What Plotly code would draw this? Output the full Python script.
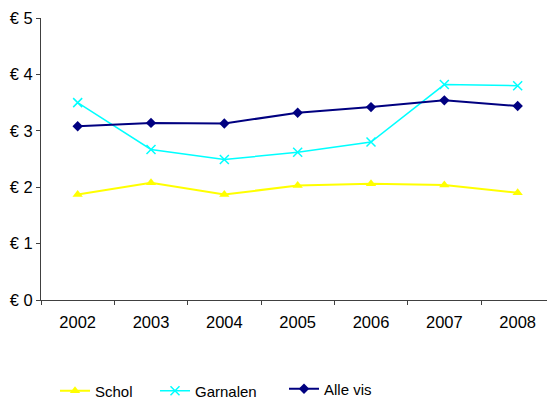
import plotly.graph_objects as go

years = ["2002", "2003", "2004", "2005", "2006", "2007", "2008"]
schol = [1.87, 2.08, 1.87, 2.03, 2.06, 2.04, 1.90]
garnalen = [3.50, 2.67, 2.49, 2.62, 2.80, 3.82, 3.80]
alle_vis = [3.08, 3.14, 3.13, 3.32, 3.42, 3.54, 3.44]
y_ticks = [0, 1, 2, 3, 4, 5]
y_labels = ["€ 0", "€ 1", "€ 2", "€ 3", "€ 4", "€ 5"]

FONT = "Liberation Sans, Arial, sans-serif"

fig = go.Figure()
fig.add_trace(go.Scatter(
    x=years, y=schol, name="Schol", mode="lines+markers",
    line=dict(color="#FFFF00", width=2),
    marker=dict(symbol="triangle-up", size=9, color="#FFFF00"),
    legend="legend",
))
fig.add_trace(go.Scatter(
    x=years, y=garnalen, name="Garnalen", mode="lines+markers",
    line=dict(color="#00FFFF", width=1.5),
    marker=dict(symbol="x-thin", size=9, color="#00FFFF",
                line=dict(color="#00FFFF", width=1.5)),
    legend="legend2",
))
fig.add_trace(go.Scatter(
    x=years, y=alle_vis, name="Alle vis", mode="lines+markers",
    line=dict(color="#000080", width=2),
    marker=dict(symbol="diamond", size=8, color="#000080"),
    legend="legend3",
))

leg_common = dict(xref="container", yref="container", xanchor="left",
                  yanchor="middle", bgcolor="rgba(0,0,0,0)", borderwidth=0,
                  font=dict(family=FONT, size=15, color="#000000"))

fig.update_layout(
    width=547, height=401,
    margin=dict(l=41, r=0, t=18, b=101, autoexpand=False),
    paper_bgcolor="white", plot_bgcolor="white",
    font=dict(family=FONT, size=15, color="#000000"),
    showlegend=True,
    legend=dict(x=55 / 547, y=1 - 391 / 401, **leg_common),
    legend2=dict(x=155 / 547, y=1 - 391 / 401, **leg_common),
    legend3=dict(x=284 / 547, y=1 - 389 / 401, **leg_common),
    xaxis=dict(
        type="category", range=[-0.5, 6.4],
        showline=True, linecolor="#404040", linewidth=1,
        ticks="outside", tickson="boundaries", ticklen=4, tickcolor="#404040",
        showgrid=False, zeroline=False, tickangle=0, ticklabelstandoff=7,
        tickfont=dict(family=FONT, size=16.5, color="#000000"),
    ),
    yaxis=dict(
        range=[0, 5], tickvals=y_ticks, ticktext=y_labels,
        showline=True, linecolor="#404040", linewidth=1,
        ticks="outside", ticklen=4, tickcolor="#404040",
        showgrid=False, zeroline=False,
        tickfont=dict(family=FONT, size=16.5, color="#000000"),
    ),
)

fig.write_html("out.html", config={"displayModeBar": False},
               post_script="document.body.style.margin='0';document.body.style.overflow='hidden';")
